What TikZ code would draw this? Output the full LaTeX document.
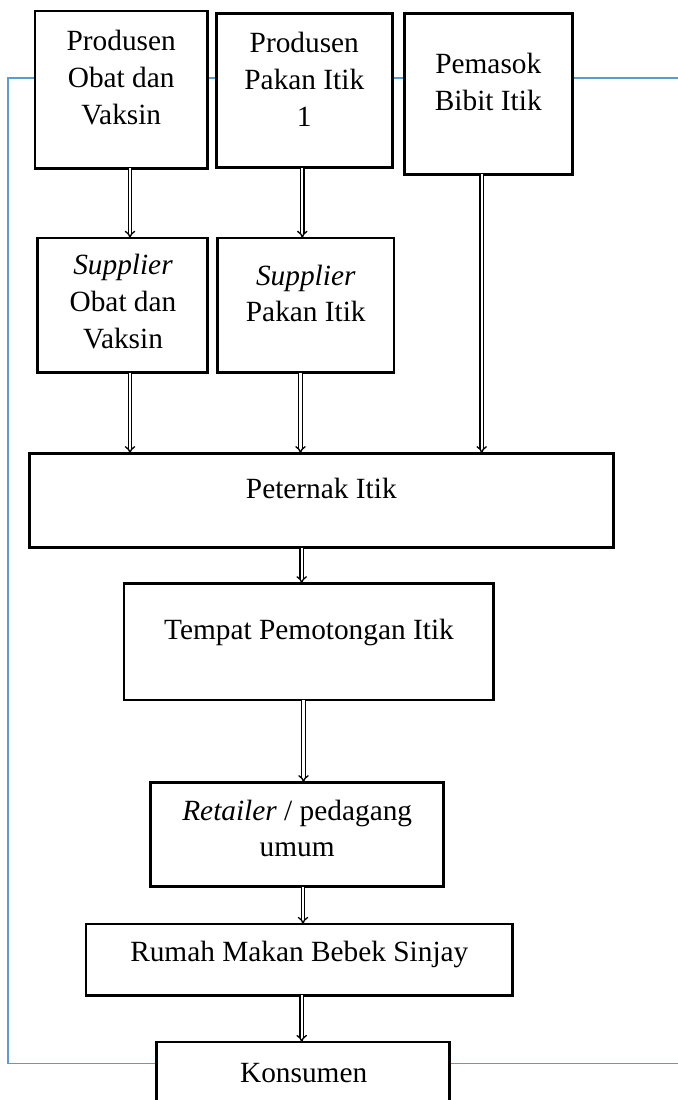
\documentclass[tikz,border=0pt]{standalone}
\usepackage{fontspec}
\setmainfont{Liberation Serif}
\usetikzlibrary{arrows.meta}
\definecolor{frameblue}{RGB}{91,155,213}
\tikzset{
  box/.style={draw=black, line width=1.9pt, fill=white, inner sep=0pt, outer sep=0pt},
  lbl/.style={align=center, inner sep=0pt, anchor=base, font=\fontsize{22}{27.5}\selectfont},
  darr/.style={double=white, draw=black, line width=1pt, double distance=1.6pt, -{Implies}},
  bluefb/.style={draw=frameblue, line width=1.2pt}
}
\begin{document}
\begin{tikzpicture}[x=0.75pt,y=-0.75pt]
\useasboundingbox (0,0) rectangle (678,1100);
\clip (0,0) rectangle (678,1100);
% feedback frame
\coordinate (fa) at (678,78);
\coordinate (fb) at (7.7,78);
\coordinate (fc) at (7.7,1063.3);
\coordinate (fd) at (678,1063.3);
\draw[bluefb] (fa) -- (fb) -- (fc) -- (fd);
% boxes
\node[box, minimum width=129.2pt, minimum height=118pt] (p1) at (121.2,89.7) {};
\node[box, minimum width=132pt, minimum height=115.8pt] (p2) at (304.7,90.5) {};
\node[box, minimum width=125.7pt, minimum height=120.75pt] (p3) at (488.5,93.8) {};
\node[box, minimum width=127.2pt, minimum height=101pt] (s1) at (122.5,305.3) {};
\node[box, minimum width=132.2pt, minimum height=101pt] (s2) at (305.8,305.3) {};
\node[box, minimum width=438.3pt, minimum height=70.8pt] (pet) at (321.5,500.5) {};
\node[box, minimum width=277pt, minimum height=87.5pt] (tem) at (308.7,641.7) {};
\node[box, minimum width=219.5pt, minimum height=78.3pt] (ret) at (297,834.5) {};
\node[box, minimum width=319.7pt, minimum height=53.5pt] (rum) at (299.2,959.7) {};
\node[box, minimum width=219.5pt, minimum height=52.3pt] (kon) at (303,1077) {};
% texts (anchored at the baseline of their last line)
\node[lbl] (p1t) at (121.2,124) {Produsen\\Obat dan\\Vaksin};
\node[lbl] (p2t) at (304.3,126) {Produsen\\Pakan Itik\\1};
\node[lbl] (p3t) at (488.3,110) {Pemasok\\Bibit Itik};
\node[lbl] (s1t) at (123,348.3) {\textit{Supplier}\\Obat dan\\Vaksin};
\node[lbl] (s2t) at (305.8,321.7) {\textit{Supplier}\\Pakan Itik};
\node[lbl] (pett) at (321.3,498.3) {Peternak Itik};
\node[lbl] (temt) at (309,639.3) {Tempat Pemotongan Itik};
\node[lbl] (rett) at (297.2,856.7) {\textit{Retailer} / pedagang\\umum};
\node[lbl] (rumt) at (299.3,961.7) {Rumah Makan Bebek Sinjay};
\node[lbl] (kont) at (303.7,1082.3) {Konsumen};
% arrow columns
\coordinate (c1) at (130,0);
\coordinate (c2) at (302.3,0);
\coordinate (c3) at (481.7,0);
\coordinate (c4) at (300.5,0);
\coordinate (c5) at (301.7,0);
\coordinate (c6) at (303.5,0);
\coordinate (c7) at (303,0);
\coordinate (c8) at (301.7,0);
\draw[darr] (p1.south -| c1) -- (s1.north -| c1);
\draw[darr] (p2.south -| c2) -- (s2.north -| c2);
\draw[darr] (p3.south -| c3) -- (pet.north -| c3);
\draw[darr] (s1.south -| c1) -- (pet.north -| c1);
\draw[darr] (s2.south -| c4) -- (pet.north -| c4);
\draw[darr] (pet.south -| c5) -- (tem.north -| c5);
\draw[darr] (tem.south -| c6) -- (ret.north -| c6);
\draw[darr] (ret.south -| c7) -- (rum.north -| c7);
\draw[darr] (rum.south -| c8) -- (kon.north -| c8);
\end{tikzpicture}
\end{document}
